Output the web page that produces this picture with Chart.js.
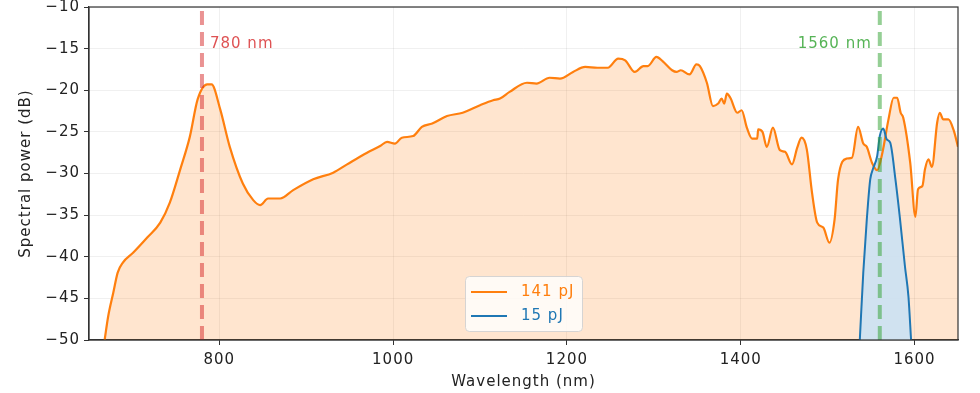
<!DOCTYPE html>
<html lang="en">
<head>
  <meta charset="UTF-8">
  <title>Spectral power</title>
  <script src="https://cdn.jsdelivr.net/npm/chart.js"></script>
  <style>
    html, body { margin: 0; padding: 0; background: #fff; }
    #wrap { width: 980px; height: 393px; }
  </style>
</head>
<body>
  <div id="wrap"><canvas id="spectrum"></canvas></div>

  <script>
    // spectra (wavelength nm, power dB)
    const wl141 = [668, 672, 678, 683, 689, 701, 717, 732, 743, 755, 766, 775, 786, 791, 801, 812, 827, 839, 847, 856,
      870, 885, 908, 931, 947, 970, 985, 993, 1002, 1010, 1023, 1033, 1045, 1062, 1080, 1100, 1115, 1123, 1134, 1154,
      1165, 1180, 1192, 1207, 1221, 1235, 1247, 1259, 1267, 1278, 1288, 1293, 1303, 1310, 1321, 1326, 1331, 1341, 1349, 1353,
      1361, 1368, 1374, 1378, 1381, 1384, 1388, 1396, 1401, 1407, 1413, 1419, 1420, 1425, 1430, 1437, 1445, 1451, 1459, 1465,
      1470, 1476, 1482, 1488, 1495, 1502, 1508, 1512, 1522, 1528, 1535, 1541, 1545, 1551, 1557, 1563, 1570, 1576, 1580, 1584,
      1587, 1595, 1601, 1604, 1609, 1612, 1616, 1620, 1626, 1629, 1633, 1639, 1645, 1650];
    const db141 = [-50, -47.2, -44.3, -41.9, -40.7, -39.5, -37.7, -35.9, -33.5, -29.5, -25.6, -21.1, -19.3, -19.3, -22.3, -26.8, -31.2, -33.2, -33.8, -33.0,
      -33.0, -32.0, -30.7, -29.9, -28.9, -27.5, -26.7, -26.2, -26.4, -25.7, -25.5, -24.4, -24.0, -23.1, -22.7, -21.8, -21.2, -21.0, -20.2, -19.1,
      -19.2, -18.5, -18.6, -17.8, -17.2, -17.3, -17.3, -16.2, -16.4, -17.8, -17.1, -17.1, -16.0, -16.5, -17.6, -17.8, -17.6, -18.1, -16.9, -17.1,
      -19.1, -21.9, -21.6, -21.0, -21.6, -20.4, -20.9, -22.7, -22.4, -24.5, -25.8, -25.8, -24.7, -25.0, -26.8, -24.5, -27.2, -27.4, -28.9, -26.9,
      -25.7, -27.1, -32.3, -35.9, -36.5, -38.3, -35.5, -30.7, -28.2, -28.1, -24.4, -26.4, -26.8, -28.7, -29.6, -27.5, -23.5, -20.9, -20.9, -22.7,
      -23.3, -28.7, -35.2, -31.9, -31.5, -29.5, -28.3, -29.2, -23.9, -22.7, -23.5, -23.5, -24.8, -26.8];

    const wl15 = [1537, 1541, 1545, 1549, 1552, 1557, 1560, 1564, 1568, 1572, 1578, 1583, 1589, 1593, 1596];
    const db15 = [-50, -41.9, -35.6, -30.7, -29.5, -27.9, -25.5, -24.6, -25.9, -26.3, -30.7, -35.2, -41.2, -44.8, -50];

    const markers = [780, 1560];
    const markerLabels = ['780 nm', '1560 nm'];
    const xTicks = [800, 1000, 1200, 1400, 1600];
    const yTicks = [-50, -45, -40, -35, -30, -25, -20, -15, -10];

    const toPts = (xs, ys) => xs.map((x, i) => ({ x: x, y: ys[i] }));
    const vline = x => [{ x: x, y: -50 }, { x: x, y: -10 }];
    const minus = v => String(v).replace('-', '\u2212');
    const font = { family: 'DejaVu Sans', size: 15 };

    // text in the reference is a bit wide, so space the letters out
    const spacing = {
      id: 'spacing',
      beforeInit(chart) { chart.ctx.letterSpacing = '1px'; },
      beforeDraw(chart) { chart.ctx.letterSpacing = '1px'; }
    };

    // matplotlib style frame, marker labels and the legend box
    const extras = {
      id: 'extras',
      afterDatasetsDraw(chart) {
        const { ctx, chartArea: a, scales } = chart;
        ctx.save();
        ctx.font = '15px "DejaVu Sans"';
        ctx.textBaseline = 'middle';
        const ty = scales.y.getPixelForValue(-14.4);
        ctx.fillStyle = 'rgba(214,39,40,0.8)';
        ctx.textAlign = 'left';
        ctx.fillText(markerLabels[0], scales.x.getPixelForValue(markers[0]) + 8, ty);
        ctx.fillStyle = 'rgba(44,160,44,0.8)';
        ctx.textAlign = 'right';
        ctx.fillText(markerLabels[1], scales.x.getPixelForValue(markers[1]) - 8, ty);

        // legend, lower centre
        const w = 117, h = 55;
        const lx = Math.round((a.left + a.right) / 2 - w / 2), ly = Math.round(a.bottom - 9 - h);
        ctx.fillStyle = 'rgba(255,255,255,0.8)';
        ctx.strokeStyle = 'rgba(210,210,210,0.9)';
        ctx.lineWidth = 1;
        ctx.beginPath();
        ctx.roundRect(lx + 0.5, ly + 0.5, w, h, 4);
        ctx.fill();
        ctx.stroke();
        const items = [['141 pJ', '#ff7f0e'], ['15 pJ', '#1f77b4']];
        items.forEach((it, i) => {
          const yy = ly + 16 + i * 24;
          ctx.strokeStyle = it[1];
          ctx.lineWidth = 2;
          ctx.beginPath();
          ctx.moveTo(lx + 6, yy);
          ctx.lineTo(lx + 42, yy);
          ctx.stroke();
          ctx.fillStyle = it[1];
          ctx.textAlign = 'left';
          ctx.fillText(it[0], lx + 56, yy);
        });

        ctx.strokeStyle = '#333';
        ctx.lineWidth = 1.2;
        ctx.strokeRect(a.left, a.top, a.right - a.left, a.bottom - a.top);
        ctx.restore();
      }
    };

    new Chart(document.getElementById('spectrum'), {
      type: 'line',
      data: {
        datasets: [
          {
            label: '780',
            data: vline(markers[0]),
            borderColor: 'rgba(214,39,40,0.5)',
            borderWidth: 4,
            borderDash: [14, 7],
            pointRadius: 0,
            fill: false,
            order: 0
          },
          {
            label: '1560',
            data: vline(markers[1]),
            borderColor: 'rgba(44,160,44,0.5)',
            borderWidth: 4,
            borderDash: [14, 7],
            pointRadius: 0,
            fill: false,
            order: 0
          },
          {
            label: '15 pJ',
            data: toPts(wl15, db15),
            borderColor: '#1f77b4',
            backgroundColor: 'rgba(205,225,241,0.95)',
            borderWidth: 2,
            pointRadius: 0,
            cubicInterpolationMode: 'monotone',
            fill: 'start',
            order: 1
          },
          {
            label: '141 pJ',
            data: toPts(wl141, db141),
            borderColor: '#ff7f0e',
            backgroundColor: 'rgba(255,127,14,0.2)',
            borderWidth: 2.2,
            pointRadius: 0,
            cubicInterpolationMode: 'monotone',
            fill: 'start',
            order: 2
          }
        ]
      },
      options: {
        responsive: true,
        maintainAspectRatio: false,
        animation: false,
        layout: { padding: { left: 13, top: 7, right: 22, bottom: 0 } },
        plugins: {
          legend: { display: false },
          tooltip: { enabled: false },
          filler: { drawTime: 'beforeDatasetsDraw' }
        },
        scales: {
          x: {
            type: 'linear',
            min: 650,
            max: 1650,
            afterBuildTicks: s => { s.ticks = xTicks.map(v => ({ value: v })); },
            afterFit: s => { s.height = 53; s.paddingLeft = 0; s.paddingRight = 0; },
            grid: { color: 'rgba(0,0,0,0.06)', tickColor: '#333', tickLength: 5 },
            border: { color: '#333', width: 1.2 },
            ticks: { color: '#222', font: font, padding: 6, maxRotation: 0, callback: v => String(v) },
            title: { display: true, text: 'Wavelength (nm)', color: '#222', font: font, padding: { top: 0, bottom: 2 } }
          },
          y: {
            min: -50,
            max: -10,
            afterBuildTicks: s => { s.ticks = yTicks.map(v => ({ value: v })); },
            afterFit: s => { s.width = 76; s.paddingTop = 0; s.paddingBottom = 0; },
            grid: { color: 'rgba(0,0,0,0.06)', tickColor: '#333', tickLength: 5 },
            border: { color: '#333', width: 1.2 },
            ticks: { color: '#222', font: font, padding: 4, callback: v => minus(v) },
            title: { display: true, text: 'Spectral power (dB)', color: '#222', font: font, padding: { bottom: 4 } }
          }
        }
      },
      plugins: [spacing, extras]
    });
  </script>
</body>
</html>
